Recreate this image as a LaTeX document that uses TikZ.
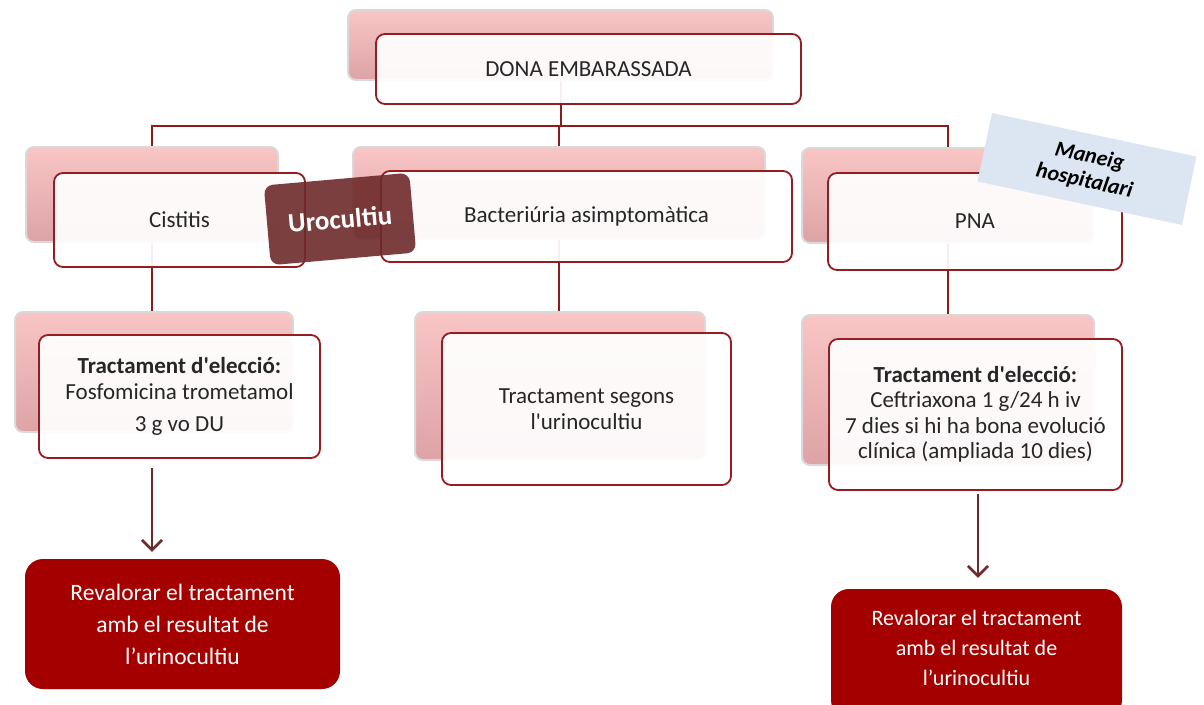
\documentclass[tikz,border=0pt]{standalone}
\usepackage{fontspec}
\setmainfont{Carlito}
\usetikzlibrary{arrows.meta,backgrounds}
\definecolor{lineRed}{HTML}{8F1A1A}
\definecolor{boxRed}{HTML}{951C1F}
\definecolor{pinkTop}{HTML}{F9C5C5}
\definecolor{pinkBot}{HTML}{DDA3A6}
\definecolor{backEdge}{HTML}{D9D9D9}
\definecolor{txtGray}{HTML}{262626}
\definecolor{revRed}{HTML}{A50000}
\definecolor{arrBrown}{HTML}{6B2B2B}
\definecolor{uroFill}{HTML}{6E2A2A}
\definecolor{manFill}{HTML}{DCE6F2}
\begin{document}
\begin{tikzpicture}[x=1pt,y=-1pt,
  back/.style={draw=backEdge, line width=2pt, rounded corners=8pt, top color=pinkTop, bottom color=pinkBot, inner sep=0pt},
  front/.style={draw=boxRed, line width=1.8pt, rounded corners=9pt, fill=white, fill opacity=0.93, text opacity=1, inner sep=0pt, align=center, text=txtGray, font=\fontsize{23}{25.5}\selectfont},
  conn/.style={draw=lineRed, line width=2pt},
  arr/.style={draw=arrBrown, line width=2.6pt, -{Straight Barb[length=10pt,width=20pt]}},
  revbox/.style={fill=revRed, rounded corners=18pt, inner sep=0pt, align=center, text=white},
  uro/.style={fill=uroFill, fill opacity=0.9, text opacity=1, rounded corners=9pt, inner sep=0pt, text=white, font=\fontsize{27}{30}\selectfont\bfseries},
  man/.style={fill=manFill, inner sep=0pt, align=center, text=black, font=\fontsize{22}{25}\selectfont\bfseries\itshape}
]
\useasboundingbox (0,0) rectangle (1204,704);
\coordinate (bus) at (0,126);

% row 1
\node[back, minimum width=425pt, minimum height=70pt] (topB) at (560.5,45) {};
\node[front, minimum width=425pt, minimum height=70pt] (topF) at (588.5,69) {DONA EMBARASSADA};

\node[back, minimum width=252pt, minimum height=95pt] (cisB) at (152,194.5) {};
\node[back, minimum width=412pt, minimum height=92pt] (bacB) at (559,193) {};
\node[back, minimum width=291pt, minimum height=95pt] (pnaB) at (947.5,195.5) {};
\node[front, minimum width=251pt, minimum height=94pt] (cisF) at (179.5,220) {Cistitis};
\node[front, minimum width=411pt, minimum height=91pt] (bacF) at (586.5,216.5) {Bacteriúria asimptomàtica};
\node[front, minimum width=294pt, minimum height=97pt] (pnaF) at (975,221.5) {PNA};

% row 2
\node[back, minimum width=278pt, minimum height=120pt] (fosB) at (154,372) {};
\node[front, minimum width=281pt, minimum height=123pt] (fosF) at (179.5,396.5)
  {\textbf{Tractament d\textquotesingle elecció:}\\ Fosfomicina trometamol\\[7pt] 3 g vo DU};
\node[back, minimum width=290pt, minimum height=148pt] (segB) at (560,386) {};
\node[front, minimum width=289pt, minimum height=152pt] (segF) at (586.5,409)
  {Tractament segons\\ l\textquotesingle urinocultiu};
\node[back, minimum width=292pt, minimum height=150pt] (cefB) at (948,390) {};
\node[front, minimum width=293pt, minimum height=151pt] (cefF) at (975.5,414.5)
  {\textbf{Tractament d\textquotesingle elecció:}\\ Ceftriaxona 1 g/24 h iv\\ 7 dies si hi ha bona evolució\\ clínica (ampliada 10 dies)};

% row 3
\node[revbox, minimum width=315pt, minimum height=130pt, font=\fontsize{23.5}{32}\selectfont] (revL) at (182.5,624)
  {Revalorar el tractament\\ amb el resultat de\\ l’urinocultiu};
\node[revbox, minimum width=291pt, minimum height=129pt, font=\fontsize{22}{30}\selectfont] (revR) at (976.5,653.5)
  {Revalorar el tractament\\ amb el resultat de\\ l’urinocultiu\rule[-11pt]{0pt}{11pt}};

% labels
\node[uro, rotate=5, minimum width=146pt, minimum height=80pt] (urocultiu) at (340,219) {Urocultiu};
\node[man, rotate=-12, minimum width=209pt, minimum height=70pt] (maneig) at (1087,169) {Maneig\\ hospitalari};

% connectors
\begin{scope}[on background layer]
  \draw[conn] (topB.south) -- (topB.south |- bus);
  \draw[conn] (cisB.north) -- (cisB.north |- bus) -| (pnaB.north);
  \draw[conn] (bacB.north) -- (bacB.north |- bus);
  \draw[conn] (cisB.south) -- (cisB.south |- fosB.north);
  \draw[conn] (bacB.south) -- (bacB.south |- segB.north);
  \draw[conn] (pnaB.south) -- (pnaB.south |- cefB.north);
\end{scope}
\draw[arr] ([yshift=-9pt]fosF.south -| cisB.south) -- ([yshift=7pt]revL.north -| cisB.south);
\draw[arr] ([yshift=-3pt,xshift=2.5pt]cefF.south) -- ([yshift=11pt,xshift=2.5pt]revR.north -| cefF.south);
\end{tikzpicture}
\end{document}
